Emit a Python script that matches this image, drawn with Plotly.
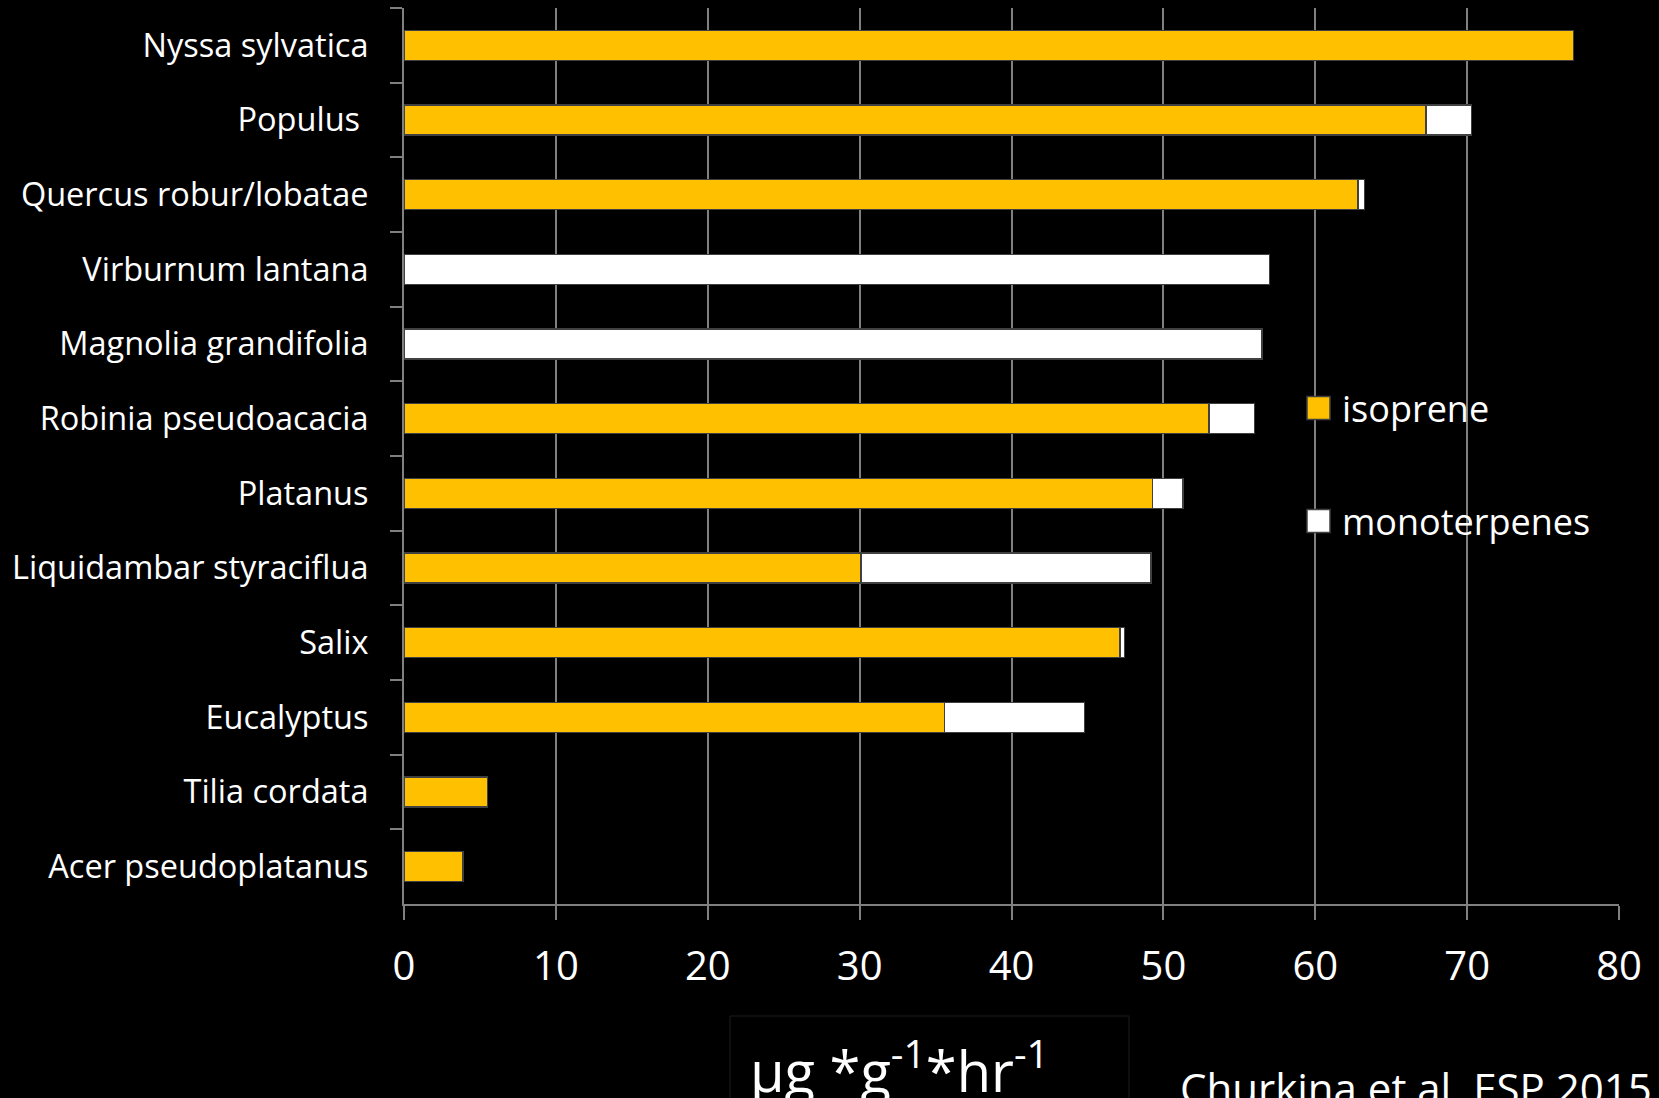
import plotly.graph_objects as go

categories = ["Nyssa sylvatica", "Populus\u00a0", "Quercus robur/lobatae", "Virburnum lantana",
              "Magnolia grandifolia", "Robinia pseudoacacia", "Platanus", "Liquidambar styraciflua",
              "Salix", "Eucalyptus", "Tilia cordata", "Acer pseudoplatanus"]
isoprene = [77.0, 67.3, 62.8, None, None, 53.0, 49.3, 30.1, 47.15, 35.6, 5.5, 3.9]
monoterpenes = [None, 3.0, 0.45, 57.0, 56.5, 3.0, 2.0, 19.1, 0.3, 9.2, None, None]
series_names = ["isoprene", "monoterpenes"]
series_colors = ["#FFC000", "#FFFFFF"]
x_ticks = [0, 10, 20, 30, 40, 50, 60, 70, 80]
unit_label = "µg *g<sup>-1</sup>*hr<sup>-1</sup>"
source_label = "Churkina et al. ESP 2015"

W, H = 1659, 1098
ML, MR, MT, MB = 404, 40, 8, 194
PW, PH = W - ML - MR, H - MT - MB

def px(x):
    return (x - ML) / PW

def py(y):
    return 1 - (y - MT) / PH

FONT = "Open Sans"
fig = go.Figure()
for name, vals, col in zip(series_names, [isoprene, monoterpenes], series_colors):
    fig.add_trace(go.Bar(
        y=categories, x=vals, name=name, orientation="h", width=0.4,
        marker=dict(color=col, line=dict(color="#404040", width=1.5)),
        showlegend=False,
    ))

# manual legend (large swatches)
leg_y = [408, 521]
shapes = []
annotations = []
for name, col, yc in zip(series_names, series_colors, leg_y):
    shapes.append(dict(type="rect", xref="paper", yref="paper",
                       x0=px(1307), x1=px(1330), y0=py(yc - 11.5), y1=py(yc + 11.5),
                       fillcolor=col, line=dict(color="#404040", width=1.5)))
    annotations.append(dict(xref="paper", yref="paper", x=px(1340), y=py(yc),
                            xanchor="left", yanchor="middle", text=name, showarrow=False,
                            font=dict(family=FONT, size=36, color="white")))

# unit box and label
shapes.append(dict(type="rect", xref="paper", yref="paper",
                   x0=px(730), x1=px(1129), y0=py(1016), y1=py(1140),
                   fillcolor="rgba(0,0,0,0)", line=dict(color="#1c1c1c", width=1)))
annotations.append(dict(xref="paper", yref="paper", x=px(748), y=py(1024),
                        xanchor="left", yanchor="top", text=unit_label, showarrow=False,
                        font=dict(family=FONT, size=56, color="white")))
annotations.append(dict(xref="paper", yref="paper", x=px(1178), y=py(1057),
                        xanchor="left", yanchor="top", text=source_label, showarrow=False,
                        font=dict(family=FONT, size=42, color="white")))

fig.update_layout(
    width=W, height=H, barmode="stack", bargap=0.6,
    paper_bgcolor="black", plot_bgcolor="black",
    margin=dict(l=ML, r=MR, t=MT, b=MB, pad=0),
    font=dict(family=FONT, color="white"),
    shapes=shapes, annotations=annotations,
    xaxis=dict(range=[0, 80], tickvals=x_ticks, showgrid=True, gridcolor="#808080", gridwidth=2,
               zeroline=False, showline=True, linecolor="#808080", linewidth=2,
               ticks="outside", ticklen=14, tickwidth=2, tickcolor="#808080",
               tickfont=dict(family=FONT, size=40, color="white"), ticklabelstandoff=12),
    yaxis=dict(categoryorder="array", categoryarray=categories, autorange="reversed",
               showgrid=False, zeroline=False, showline=True, linecolor="#808080", linewidth=2,
               ticks="outside", tickson="boundaries", ticklen=12, tickwidth=2, tickcolor="#808080",
               tickfont=dict(family=FONT, size=32.5, color="white"), ticklabelstandoff=27),
)
fig.write_html("out.html")
